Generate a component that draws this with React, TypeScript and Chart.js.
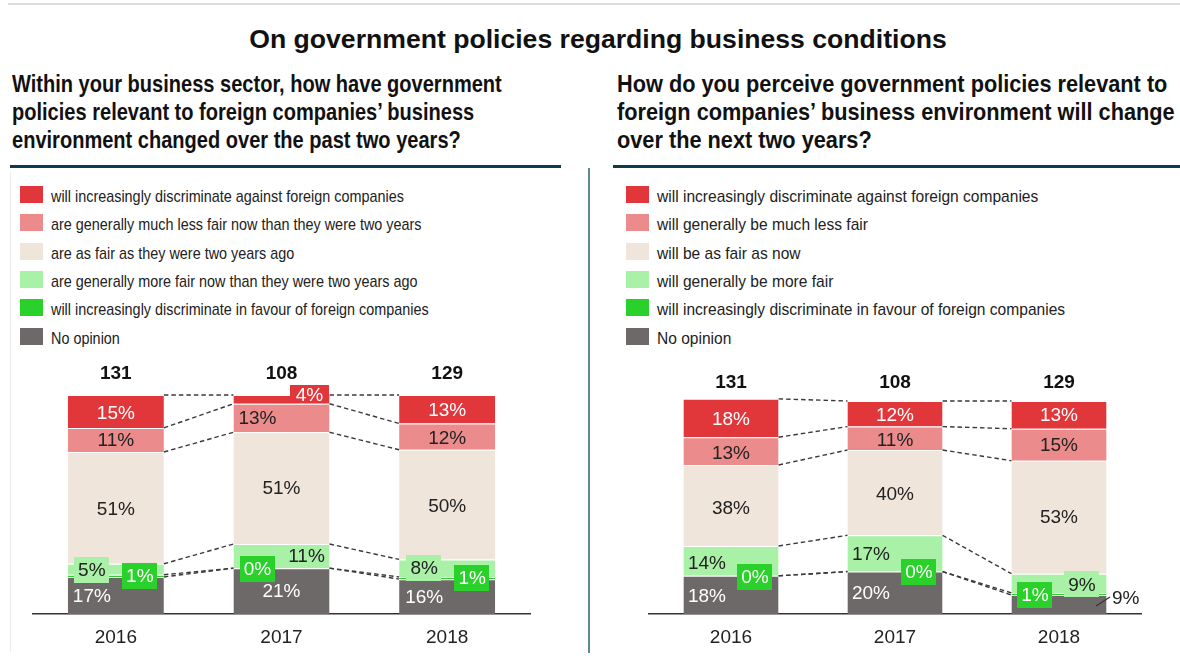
import React, { useEffect, useRef } from "react";
import { Chart, registerables } from "chart.js";

Chart.register(...registerables);

// ---------- DATA ----------
const YEARS = ["2016", "2017", "2018"];
const PAST_RESPONDENTS = [131, 108, 129];
const NEXT_RESPONDENTS = [131, 108, 129];

// stacked bottom -> top
const PAST_NO_OPINION = [17, 21, 16];
const PAST_FAVOUR = [1, 0, 1];
const PAST_MORE_FAIR = [5, 11, 8];
const PAST_AS_FAIR = [51, 51, 50];
const PAST_LESS_FAIR = [11, 13, 12];
const PAST_AGAINST = [15, 4, 13];

const NEXT_NO_OPINION = [18, 20, 9];
const NEXT_FAVOUR = [0, 0, 1];
const NEXT_MORE_FAIR = [14, 17, 9];
const NEXT_AS_FAIR = [38, 40, 53];
const NEXT_LESS_FAIR = [13, 11, 15];
const NEXT_AGAINST = [18, 12, 13];

const MAIN_TITLE = "On government policies regarding business conditions";
const PAST_TITLE_LINES = [
  "Within your business sector, how have government",
  "policies relevant to foreign companies\u2019 business",
  "environment changed over the past two years?",
];
const NEXT_TITLE_LINES = [
  "How do you perceive government policies relevant to",
  "foreign companies\u2019 business environment will change",
  "over the next two years?",
];
// legend order: top -> bottom
const PAST_LEGEND = [
  "will increasingly discriminate against foreign companies",
  "are generally much less fair now than they were two years",
  "are as fair as they were two years ago",
  "are generally more fair now than they were two years ago",
  "will increasingly discriminate in favour of foreign companies",
  "No opinion",
];
const NEXT_LEGEND = [
  "will increasingly discriminate against foreign companies",
  "will generally be much less fair",
  "will be as fair as now",
  "will generally be more fair",
  "will increasingly discriminate in favour of foreign companies",
  "No opinion",
];

// ---------- STYLE ----------
const FONT = '"Liberation Sans", Arial, Helvetica, sans-serif';
// bottom -> top
const SERIES_COLORS = ["#6e6969", "#2ad12a", "#a9f1a6", "#f0e5da", "#ec8b8b", "#e2373a"];
const SERIES_TEXT = ["#ffffff", "#ffffff", "#222222", "#222222", "#222222", "#ffffff"];
const LEGEND_COLORS = [...SERIES_COLORS].reverse();

type Place = { dx: number; dy: number; box?: boolean; bh?: number; pad?: number; leader?: boolean };
const P = (dx: number, dy: number, box = false, bh = 26, pad = 4): Place => ({ dx, dy, box, bh, pad });

// [series bottom->top][year]
const PAST_PLACES: Place[][] = [
  [P(-24, 0), P(0, 0), P(-23, 0)],
  [P(24, 0, true), P(-24, 1, true), P(25, 0, true)],
  [P(-24, 1, true), P(25, 0), P(-23, 0, true)],
  [P(0, 1), P(0, 0), P(0, 1)],
  [P(0, 0), P(-24, 0), P(0, 1)],
  [P(0, 1), P(28, -5, true, 18, 6), P(0, 1)],
];
const NEXT_PLACES: Place[][] = [
  [P(-24, 1), P(-24, 0), { dx: 0, dy: 0, leader: true }],
  [P(24, 1, true), P(24, 0, true), P(-24, 1, true)],
  [P(-24, 2), P(-24, 0), P(23, 1, true)],
  [P(0, 2), P(0, 1), P(0, 0)],
  [P(0, 2), P(0, 1), P(0, 0)],
  [P(0, 1), P(0, 1), P(0, 0)],
];

function makePlugin(places: Place[][], counts: number[], countOffset: number) {
  return {
    id: "segmentDecor",
    afterDatasetsDraw(chart: any) {
      const ctx = chart.ctx as CanvasRenderingContext2D;
      const nSeries = chart.data.datasets.length;
      const metas = [] as any[];
      for (let s = 0; s < nSeries; s++) metas.push(chart.getDatasetMeta(s));
      const nBars = chart.data.labels.length;
      ctx.save();
      // dashed connectors
      ctx.strokeStyle = "#3a3a3a";
      ctx.lineWidth = 1.4;
      ctx.setLineDash([4.5, 3]);
      for (let i = 0; i < nBars - 1; i++) {
        for (let s = 0; s < nSeries; s++) {
          const a = metas[s].data[i];
          const b = metas[s].data[i + 1];
          ctx.beginPath();
          ctx.moveTo(a.x + a.width / 2, a.y);
          ctx.lineTo(b.x - b.width / 2, b.y);
          ctx.stroke();
        }
      }
      ctx.setLineDash([]);
      // segment labels
      ctx.font = `19px ${FONT}`;
      ctx.textBaseline = "middle";
      for (let s = 0; s < nSeries; s++) {
        for (let i = 0; i < nBars; i++) {
          const el = metas[s].data[i];
          const v = chart.data.datasets[s].data[i];
          const pl = places[s][i];
          const text = `${v}%`;
          const cy = (el.y + el.base) / 2 + pl.dy;
          const cx = el.x + pl.dx;
          if (pl.leader) {
            ctx.strokeStyle = "#333";
            ctx.lineWidth = 1.2;
            ctx.beginPath();
            ctx.moveTo(el.x + 37, cy + 1.5);
            ctx.lineTo(el.x + 51, cy - 7.5);
            ctx.stroke();
            ctx.fillStyle = "#222";
            ctx.textAlign = "left";
            ctx.fillText(text, el.x + 53, cy - 6);
            continue;
          }
          const tw = ctx.measureText(text).width;
          if (pl.box) {
            const w = tw + 2 * (pl.pad ?? 4);
            const h = pl.bh ?? 26;
            ctx.fillStyle = SERIES_COLORS[s];
            ctx.fillRect(Math.round(cx - w / 2), Math.round(cy - h / 2), Math.round(w), h);
          }
          ctx.fillStyle = SERIES_TEXT[s];
          ctx.textAlign = "center";
          ctx.fillText(text, cx, cy + 1);
        }
      }
      // respondent counts
      const topY = chart.scales.y.getPixelForValue(100);
      ctx.font = `bold 19px ${FONT}`;
      ctx.fillStyle = "#111";
      ctx.textAlign = "center";
      for (let i = 0; i < nBars; i++) {
        const el = metas[0].data[i];
        ctx.fillText(String(counts[i]), el.x, topY - countOffset);
      }
      ctx.restore();
    },
  };
}

type PanelProps = {
  left: number;
  top: number;
  width: number;
  height: number;
  padding: { left: number; right: number; top: number; bottom: number };
  series: number[][];
  names: string[];
  places: Place[][];
  counts: number[];
  countOffset: number;
};

function BarPanel(props: PanelProps) {
  const ref = useRef<HTMLCanvasElement>(null);
  useEffect(() => {
    if (!ref.current) return;
    const datasets = props.series.map((d, s) => ({
      label: props.names[s],
      data: d,
      backgroundColor: SERIES_COLORS[s],
      borderColor: "#ffffff",
      borderWidth: { top: 1, right: 0, bottom: 0, left: 0 },
      borderSkipped: false as any,
      clip: false as any,
      categoryPercentage: 0.58,
      barPercentage: 1,
    }));
    const chart = new Chart(ref.current, {
      type: "bar",
      data: { labels: YEARS, datasets },
      options: {
        responsive: false,
        animation: false,
        devicePixelRatio: 1,
        layout: { padding: props.padding },
        plugins: {
          legend: { display: false },
          tooltip: { enabled: false },
          title: { display: false },
        },
        scales: {
          x: {
            stacked: true,
            offset: true,
            grid: { display: false, drawTicks: false },
            border: { display: true, color: "#333333", width: 1.5 },
            ticks: { font: { family: FONT, size: 19 }, color: "#222222", padding: 12 },
          },
          y: { stacked: true, display: false, min: 0, max: 100 },
        },
      },
      plugins: [makePlugin(props.places, props.counts, props.countOffset)],
    } as any);
    return () => chart.destroy();
  }, []);
  return (
    <canvas
      ref={ref}
      width={props.width}
      height={props.height}
      style={{ position: "absolute", left: props.left, top: props.top, width: props.width, height: props.height }}
    />
  );
}

function Subtitle({ left, lines, scale }: { left: number; lines: string[]; scale: number }) {
  return (
    <div style={{ position: "absolute", left, top: 70 }}>
      {lines.map((l, i) => (
        <div key={i} style={{ height: 28, lineHeight: "28px", whiteSpace: "nowrap" }}>
          <span
            style={{
              display: "inline-block",
              font: `bold 24px ${FONT}`,
              color: "#111",
              transform: `scaleX(${scale})`,
              transformOrigin: "left center",
            }}
          >
            {l}
          </span>
        </div>
      ))}
    </div>
  );
}

function Legend({ left, items, scale }: { left: number; items: string[]; scale: number }) {
  return (
    <>
      {items.map((t, i) => {
        const top = 186 + i * 28.3;
        return (
          <React.Fragment key={i}>
            <div
              style={{
                position: "absolute",
                left,
                top,
                width: 23,
                height: 17,
                background: LEGEND_COLORS[i],
              }}
            />
            <div
              style={{
                position: "absolute",
                left: left + 31,
                top: top + 1,
                height: 17,
                lineHeight: "17px",
                whiteSpace: "nowrap",
              }}
            >
              <span
                style={{
                  display: "inline-block",
                  font: `17px ${FONT}`,
                  color: "#222",
                  transform: `scaleX(${scale})`,
                  transformOrigin: "left center",
                }}
              >
                {t}
              </span>
            </div>
          </React.Fragment>
        );
      })}
    </>
  );
}

export default function App() {
  const pastSeries = [PAST_NO_OPINION, PAST_FAVOUR, PAST_MORE_FAIR, PAST_AS_FAIR, PAST_LESS_FAIR, PAST_AGAINST];
  const nextSeries = [NEXT_NO_OPINION, NEXT_FAVOUR, NEXT_MORE_FAIR, NEXT_AS_FAIR, NEXT_LESS_FAIR, NEXT_AGAINST];
  const pastNames = [...PAST_LEGEND].reverse();
  const nextNames = [...NEXT_LEGEND].reverse();
  return (
    <div
      style={{
        position: "absolute",
        left: 0,
        top: 0,
        width: 1180,
        height: 660,
        background: "#fff",
        overflow: "hidden",
        fontFamily: FONT,
      }}
    >
      <div style={{ position: "absolute", left: 8, top: 3, width: 1172, height: 2, background: "#dcdcdc" }} />
      <div
        style={{
          position: "absolute",
          left: 0,
          top: 24,
          width: 1196,
          textAlign: "center",
          font: `bold 26.6px ${FONT}`,
          lineHeight: "30px",
          color: "#111",
          whiteSpace: "nowrap",
        }}
      >
        {MAIN_TITLE}
      </div>
      <Subtitle left={12} lines={PAST_TITLE_LINES} scale={0.835} />
      <Subtitle left={617} lines={NEXT_TITLE_LINES} scale={0.905} />
      <div style={{ position: "absolute", left: 10, top: 165, width: 551, height: 3, background: "#0b3b4f" }} />
      <div style={{ position: "absolute", left: 613, top: 165, width: 567, height: 3, background: "#0b3b4f" }} />
      <div style={{ position: "absolute", left: 588, top: 168, width: 2, height: 485, background: "#5e8798" }} />
      <div style={{ position: "absolute", left: 10, top: 172, width: 1, height: 480, background: "#ececec" }} />
      <Legend left={20} items={PAST_LEGEND} scale={0.847} />
      <Legend left={626} items={NEXT_LEGEND} scale={0.915} />
      <BarPanel
        left={0}
        top={355}
        width={580}
        height={306}
        padding={{ left: 33, right: 50, top: 40, bottom: 0 }}
        series={pastSeries}
        names={pastNames}
        places={PAST_PLACES}
        counts={PAST_RESPONDENTS}
        countOffset={21}
      />
      <BarPanel
        left={591}
        top={355}
        width={589}
        height={306}
        padding={{ left: 58, right: 39, top: 46, bottom: 0 }}
        series={nextSeries}
        names={nextNames}
        places={NEXT_PLACES}
        counts={NEXT_RESPONDENTS}
        countOffset={18}
      />
    </div>
  );
}
